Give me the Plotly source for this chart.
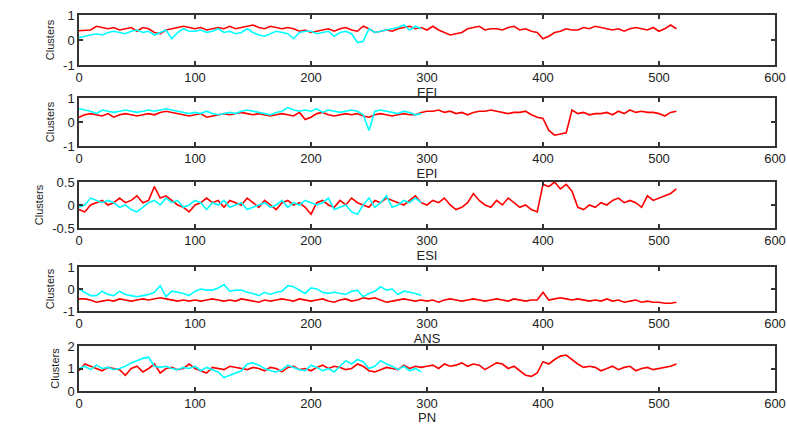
import numpy as np
import plotly.graph_objects as go

STEP = 5

efi_red = [0.37,0.38,0.4,0.55, 0.5,0.45,0.5,0.4,0.45,0.5,0.35, 0.5,0.45,0.3,0.25,0.4, 0.45,0.5,0.55,0.5,0.45,
           0.5,0.4,0.45,0.5,0.45,0.55,0.45,0.5,0.55,0.6,
           0.5,0.45,0.55,0.5,0.45,0.5,0.45,0.35,0.4,0.3,
           0.35,0.4,0.45,0.35,0.45,0.5,0.4,0.35,0.55,0.45,
           0.3,0.35,0.4,0.35,0.45,0.5,0.55,0.45,0.5,0.4,
           0.55,0.4,0.3,0.2,0.25,0.3,0.45,0.5,0.55,0.4,
           0.45,0.45,0.4,0.5,0.55,0.4,0.45,0.35,0.3,0.05,
           0.15,0.3,0.35,0.45,0.4,0.4,0.5,0.45,0.55,0.5,
           0.45,0.4,0.45,0.35,0.45,0.5,0.45,0.4,0.5,0.35,
           0.45,0.6,0.45]
efi_cyan = [0.1,0.15,0.2,0.25,0.2,0.3,0.35,0.3,0.25,0.35,
            0.4,0.3,0.35,0.2,0.3,0.4,0.05,0.3,0.45,0.35,
            0.35,0.4,0.3,0.35,0.45,0.3,0.35,0.25,0.3,0.45,
            0.3,0.2,0.15,0.25,0.35,0.3,0.25,0.05,0.3,0.35,
            0.35,0.25,0.3,0.35,0.15,0.3,0.35,0.25,-0.1,-0.05,
            0.45,0.3,0.35,0.4,0.45,0.5,0.6,0.4,0.55,0.45]

epi_red = [0.2,0.3,0.35,0.3,0.25,0.35,0.2,0.3,0.35,0.3,
           0.25,0.3,0.35,0.3,0.4,0.45,0.4,0.35,0.3,0.25,
           0.3,0.35,0.2,0.25,0.3,0.35,0.3,0.35,0.4,0.35,
           0.3,0.35,0.3,0.25,0.3,0.35,0.3,0.25,0.4,0.1,
           0.2,0.35,0.4,0.3,0.25,0.3,0.35,0.3,0.35,0.25,
           0.2,0.3,0.35,0.3,0.25,0.3,0.35,0.3,0.3,0.4,
           0.45,0.45,0.5,0.4,0.45,0.35,0.4,0.3,0.4,0.45,
           0.45,0.5,0.45,0.4,0.35,0.4,0.4,0.45,0.3,0.2,
           0.15,-0.35,-0.55,-0.5,-0.45,0.5,0.35,0.4,0.3,0.35,
           0.35,0.4,0.3,0.45,0.35,0.5,0.4,0.45,0.4,0.4,
           0.35,0.25,0.4,0.45]
epi_cyan = [0.55,0.5,0.45,0.35,0.5,0.45,0.4,0.45,0.5,0.45,
            0.4,0.45,0.5,0.45,0.5,0.55,0.5,0.45,0.4,0.35,
            0.4,0.35,0.45,0.35,0.3,0.35,0.4,0.35,0.45,0.5,
            0.45,0.4,0.35,0.3,0.4,0.45,0.6,0.5,0.45,0.5,
            0.45,0.55,0.4,0.5,0.45,0.4,0.45,0.5,0.45,0.3,
            -0.35,0.45,0.5,0.45,0.4,0.35,0.45,0.4,0.3,0.35]

esi_red = [-0.1,-0.15,0.0,0.05,0.1,0.0,0.05,0.15,0.05,0.1,
           0.2,0.05,0.1,0.4,0.15,0.2,0.1,0.0,-0.05,-0.15,
           0.0,0.05,0.15,0.05,0.1,-0.05,0.1,0.05,0.0,0.15,
           0.05,-0.05,0.1,0.0,-0.1,0.05,0.1,0.0,0.05,-0.05,
           -0.2,0.05,0.1,0.0,-0.05,0.1,0.0,0.15,0.05,0.0,
           -0.05,0.1,0.05,0.15,0.1,0.05,0.0,0.1,0.2,0.05,
           0.0,0.1,0.05,0.15,0.0,-0.1,-0.05,0.05,0.25,0.1,
           0.0,-0.05,0.1,0.0,0.15,0.05,-0.05,0.0,-0.1,-0.15,
           0.45,0.4,0.5,0.35,0.45,0.3,-0.05,-0.1,0.0,-0.05,
           0.05,0.0,0.1,0.15,0.05,0.1,0.05,-0.05,0.2,0.1,
           0.15,0.2,0.25,0.35]
esi_cyan = [-0.05,0.0,0.15,0.1,0.05,0.1,0.05,-0.05,0.0,-0.1,
            -0.15,-0.05,0.05,0.1,0.0,0.15,0.05,0.1,-0.05,0.0,
            0.1,0.05,-0.1,0.05,0.0,0.1,-0.05,0.0,0.05,-0.1,
            -0.05,0.0,0.05,-0.05,0.0,0.1,-0.05,0.05,0.0,0.1,
            0.05,0.0,0.05,0.15,-0.1,-0.05,0.0,-0.15,-0.2,0.0,
            0.15,-0.05,0.05,0.2,-0.05,0.0,0.1,0.05,0.15,0.05]

ans_red = [-0.45,-0.45,-0.5,-0.6,-0.55,-0.5,-0.55,-0.45,-0.5,-0.55,
           -0.5,-0.45,-0.5,-0.45,-0.4,-0.45,-0.5,-0.55,-0.5,-0.55,
           -0.5,-0.55,-0.5,-0.45,-0.5,-0.55,-0.5,-0.55,-0.45,-0.5,
           -0.55,-0.6,-0.5,-0.55,-0.5,-0.45,-0.5,-0.55,-0.45,-0.5,
           -0.55,-0.5,-0.45,-0.55,-0.6,-0.5,-0.45,-0.55,-0.5,-0.4,
           -0.45,-0.4,-0.5,-0.6,-0.55,-0.5,-0.45,-0.5,-0.55,-0.5,
           -0.55,-0.5,-0.6,-0.5,-0.45,-0.5,-0.55,-0.5,-0.45,-0.5,
           -0.55,-0.5,-0.45,-0.5,-0.55,-0.45,-0.5,-0.55,-0.5,-0.5,
           -0.15,-0.5,-0.45,-0.4,-0.45,-0.5,-0.45,-0.5,-0.55,-0.5,
           -0.55,-0.45,-0.55,-0.5,-0.6,-0.55,-0.5,-0.6,-0.55,-0.6,
           -0.6,-0.65,-0.65,-0.6]
ans_cyan = [0.0,-0.15,-0.3,-0.3,-0.1,-0.25,-0.3,-0.1,-0.25,-0.3,
            -0.35,-0.3,-0.25,-0.15,0.15,-0.35,-0.1,-0.15,-0.2,-0.3,
            -0.1,0.0,-0.05,-0.05,0.05,0.2,-0.1,-0.05,-0.05,-0.15,
            -0.2,-0.3,-0.15,-0.25,-0.15,-0.1,0.15,0.1,-0.05,-0.2,
            0.05,0.0,-0.15,-0.2,-0.15,-0.2,-0.25,-0.1,-0.05,-0.35,
            -0.2,-0.1,0.1,-0.05,0.0,-0.25,-0.1,-0.15,-0.2,-0.3]

pn_red = [0.9,1.2,1.1,1.0,0.9,1.05,1.0,0.95,0.7,1.0,
          1.1,0.85,1.0,1.2,0.8,1.0,1.05,0.95,1.0,1.2,
          1.0,0.9,0.8,1.05,1.0,0.95,1.1,1.05,1.0,0.95,
          1.05,1.0,0.9,1.05,1.0,0.85,1.05,1.1,0.95,1.0,
          0.9,1.05,1.15,1.0,1.1,1.05,0.95,1.0,1.2,1.1,
          0.9,0.85,0.95,1.05,1.0,0.95,1.15,1.0,1.1,1.05,
          1.1,1.15,1.0,1.2,1.1,1.15,1.25,1.1,1.2,1.15,
          0.95,1.1,1.25,1.2,1.0,1.1,0.9,0.7,0.65,0.8,
          1.3,1.2,1.4,1.55,1.6,1.4,1.2,1.05,1.1,1.05,
          0.9,1.0,1.1,0.95,1.05,1.1,0.9,1.0,1.05,0.95,
          1.0,1.05,1.1,1.2]
pn_cyan = [1.0,1.1,0.95,1.15,1.0,1.05,0.95,1.0,1.1,1.25,
           1.35,1.45,1.5,1.1,1.05,1.1,1.0,0.95,1.05,1.0,
           1.1,0.9,1.05,0.95,0.85,0.6,0.7,0.8,0.9,1.2,
           1.25,1.15,1.0,0.9,0.85,0.95,1.15,1.05,0.95,0.9,
           1.15,1.05,0.9,1.0,0.85,1.1,1.35,1.2,1.4,1.3,
           1.0,1.1,1.35,1.2,1.1,0.95,1.1,0.9,1.0,0.85]

panel_names = ["EFI", "EPI", "ESI", "ANS", "PN"]
panel_red = [efi_red, epi_red, esi_red, ans_red, pn_red]
panel_cyan = [efi_cyan, epi_cyan, esi_cyan, ans_cyan, pn_cyan]
y_ranges = [[-1, 1], [-1, 1], [-0.5, 0.5], [-1, 1], [0, 2]]
y_ticks = [[-1, 0, 1], [-1, 0, 1], [-0.5, 0, 0.5], [-1, 0, 1], [0, 1, 2]]
y_ticktext = [["-1", "0", "1"], ["-1", "0", "1"], ["-0.5", "0", "0.5"], ["-1", "0", "1"], ["0", "1", "2"]]
x_ticks = [0, 100, 200, 300, 400, 500, 600]

W, H = 787, 425
x0, x1 = 79, 775
panel_px = [(15, 65), (98, 146), (182, 228), (267, 311), (346, 391)]

fig = go.Figure()
font = dict(family="Liberation Sans, Arial, sans-serif", size=12, color="#222222")
layout = dict(width=W, height=H, margin=dict(l=0, r=0, t=0, b=0),
              plot_bgcolor="white", paper_bgcolor="white", showlegend=False, font=font)

for i in range(5):
    k = "" if i == 0 else str(i + 1)
    red = panel_red[i]
    cyan = panel_cyan[i]
    fig.add_trace(go.Scatter(x=np.arange(len(red)) * STEP, y=red, mode="lines",
                             line=dict(color="#ff0000", width=1.6),
                             xaxis="x" + k, yaxis="y" + k))
    fig.add_trace(go.Scatter(x=np.arange(len(cyan)) * STEP, y=cyan, mode="lines",
                             line=dict(color="#00ffff", width=1.6),
                             xaxis="x" + k, yaxis="y" + k))
    top, bot = panel_px[i]
    ydom = [1 - bot / H, 1 - top / H]
    axcommon = dict(showgrid=False, zeroline=False, showline=True, linecolor="#333333",
                    linewidth=1.5, mirror="ticks", ticks="inside", ticklen=4,
                    tickcolor="#333333", tickwidth=1.5, automargin=False)
    layout["xaxis" + k] = dict(domain=[x0 / W, x1 / W], range=[0, 600], tickvals=x_ticks,
                               anchor="y" + k, tickfont=dict(size=13),
                               title=dict(text=panel_names[i], standoff=0, font=dict(size=13)),
                               **axcommon)
    layout["yaxis" + k] = dict(domain=ydom, range=y_ranges[i], tickvals=y_ticks[i],
                               ticktext=y_ticktext[i], anchor="x" + k, tickfont=dict(size=13),
                               title=dict(text="Clusters", standoff=6, font=dict(size=11)),
                               **axcommon)

fig.update_layout(**layout)
fig.write_html("out.html", config={"displayModeBar": False},
               post_script="document.body.style.margin='0';document.body.style.overflow='hidden';")
